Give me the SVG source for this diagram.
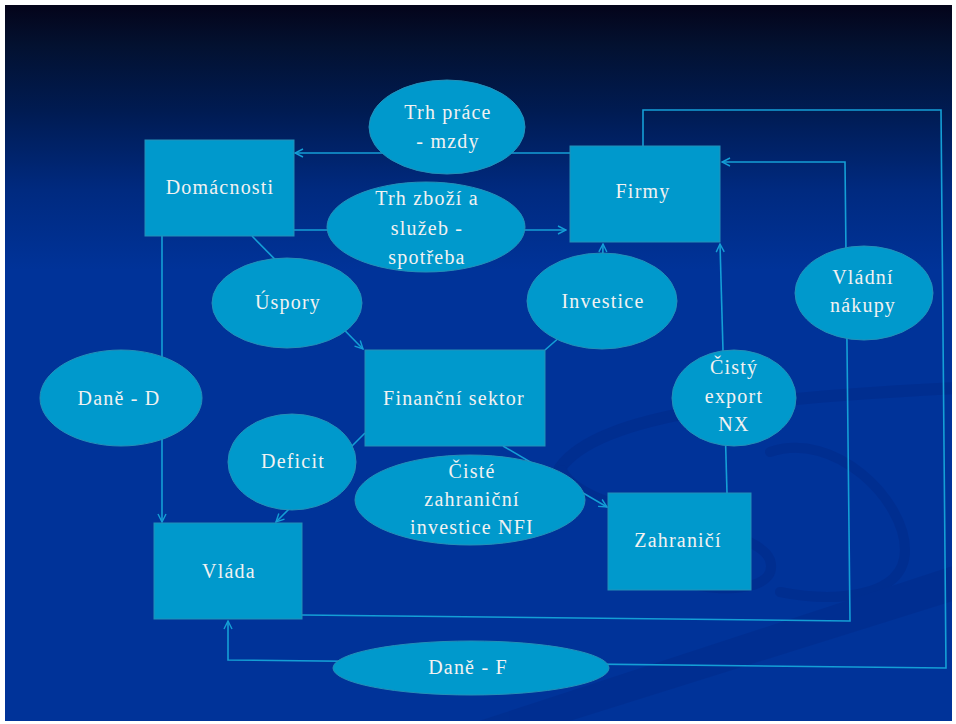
<svg xmlns="http://www.w3.org/2000/svg" width="956" height="724" viewBox="0 0 956 724">
<defs>
<linearGradient id="bg" x1="0" y1="5" x2="0" y2="270" gradientUnits="userSpaceOnUse">
<stop offset="0" stop-color="#04041a"/>
<stop offset="0.15" stop-color="#031130"/>
<stop offset="0.4" stop-color="#001b52"/>
<stop offset="0.7" stop-color="#002a80"/>
<stop offset="1" stop-color="#003399"/>
</linearGradient>
<clipPath id="bgclip"><rect x="5" y="5" width="947" height="716"/></clipPath>
<marker id="arr" viewBox="0 0 10 10" refX="9" refY="5" markerWidth="10" markerHeight="10" markerUnits="userSpaceOnUse" orient="auto">
<path d="M1,1 L9,5 L1,9" fill="none" stroke="#149fd6" stroke-width="1.4"/>
</marker>
<style>
.node{fill:#0099cc;stroke:#2590b8;stroke-width:1}
.lbl{font-family:"Liberation Serif",serif;font-size:20px;fill:#f2f2f2;text-anchor:middle;letter-spacing:1.2px}
.edge{fill:none;stroke:#149fd6;stroke-width:1.6}
.sw{fill:none;stroke:#002a88;stroke-linecap:round}
</style>
</defs>
<rect x="0" y="0" width="956" height="724" fill="#ffffff"/>
<rect x="5" y="5" width="947" height="716" fill="url(#bg)"/>
<g id="swoosh" opacity="0.5" clip-path="url(#bgclip)">
<path class="sw" stroke-width="12" d="M560,468 C600,412 760,398 956,388"/>
<path class="sw" stroke-width="10" d="M562,470 C585,520 755,520 770,560 C778,586 740,592 700,586"/>
<path class="sw" stroke-width="10" d="M770,452 C835,430 905,500 905,550 C905,600 830,602 780,592"/>
<path fill="#002b8a" stroke="none" d="M470,724 L956,565 L956,600 L560,724 Z"/>
</g>
<g id="connectors">
<path class="edge" d="M570,153 L295,153" marker-end="url(#arr)"/>
<path class="edge" d="M294,230 L566,230" marker-end="url(#arr)"/>
<path class="edge" d="M252,236 L363,349" marker-end="url(#arr)"/>
<path class="edge" d="M545,350 L602,300 L603,244" marker-end="url(#arr)"/>
<path class="edge" d="M162,236 L162,522" marker-end="url(#arr)"/>
<path class="edge" d="M365,433 L276,522" marker-end="url(#arr)"/>
<path class="edge" d="M503,446 L607,507" marker-end="url(#arr)"/>
<path class="edge" d="M727,493 L720,244" marker-end="url(#arr)"/>
<path class="edge" d="M302,615 L850,621 L845,162 L722,162" marker-end="url(#arr)"/>
<path class="edge" d="M643,146 L643,110 L941,110 L946,668 L228,660 L228,621" marker-end="url(#arr)"/>
</g>
<g id="domacnosti"><rect class="node" x="145" y="140" width="149" height="96"/><text class="lbl" x="220" y="194">Domácnosti</text></g>
<g id="firmy"><rect class="node" x="570" y="146" width="150" height="96"/><text class="lbl" x="643" y="198">Firmy</text></g>
<g id="financni-sektor"><rect class="node" x="365" y="350" width="180" height="96"/><text class="lbl" x="454" y="405">Finanční sektor</text></g>
<g id="vlada"><rect class="node" x="154" y="523" width="148" height="96"/><text class="lbl" x="229" y="578">Vláda</text></g>
<g id="zahranici"><rect class="node" x="608" y="493" width="143" height="97"/><text class="lbl" x="678" y="547">Zahraničí</text></g>
<g id="trh-prace"><ellipse class="node" cx="447" cy="127" rx="78" ry="47"/><text class="lbl" x="448" y="119">Trh práce</text><text class="lbl" x="448" y="148">- mzdy</text></g>
<g id="trh-zbozi"><ellipse class="node" cx="426" cy="227" rx="99" ry="45"/><text class="lbl" x="427" y="205">Trh zboží a</text><text class="lbl" x="427" y="235">služeb -</text><text class="lbl" x="427" y="264">spotřeba</text></g>
<g id="uspory"><ellipse class="node" cx="287" cy="303" rx="75" ry="45"/><text class="lbl" x="288" y="309">Úspory</text></g>
<g id="investice"><ellipse class="node" cx="602" cy="301" rx="75" ry="48"/><text class="lbl" x="603" y="308">Investice</text></g>
<g id="vladni-nakupy"><ellipse class="node" cx="864" cy="293" rx="69" ry="47"/><text class="lbl" x="863" y="284">Vládní</text><text class="lbl" x="863" y="312">nákupy</text></g>
<g id="dane-d"><ellipse class="node" cx="121" cy="398" rx="81" ry="48"/><text class="lbl" x="119" y="405">Daně - D</text></g>
<g id="deficit"><ellipse class="node" cx="292" cy="462" rx="64" ry="48"/><text class="lbl" x="293" y="468">Deficit</text></g>
<g id="nfi"><ellipse class="node" cx="470" cy="500" rx="115" ry="45"/><text class="lbl" x="472" y="478">Čisté</text><text class="lbl" x="472" y="506">zahraniční</text><text class="lbl" x="472" y="534">investice NFI</text></g>
<g id="nx"><ellipse class="node" cx="734" cy="398" rx="62" ry="48"/><text class="lbl" x="734" y="374">Čistý</text><text class="lbl" x="734" y="403">export</text><text class="lbl" x="734" y="431">NX</text></g>
<g id="dane-f"><ellipse class="node" cx="471" cy="668" rx="138" ry="27"/><text class="lbl" x="468" y="674">Daně - F</text></g>
</svg>
